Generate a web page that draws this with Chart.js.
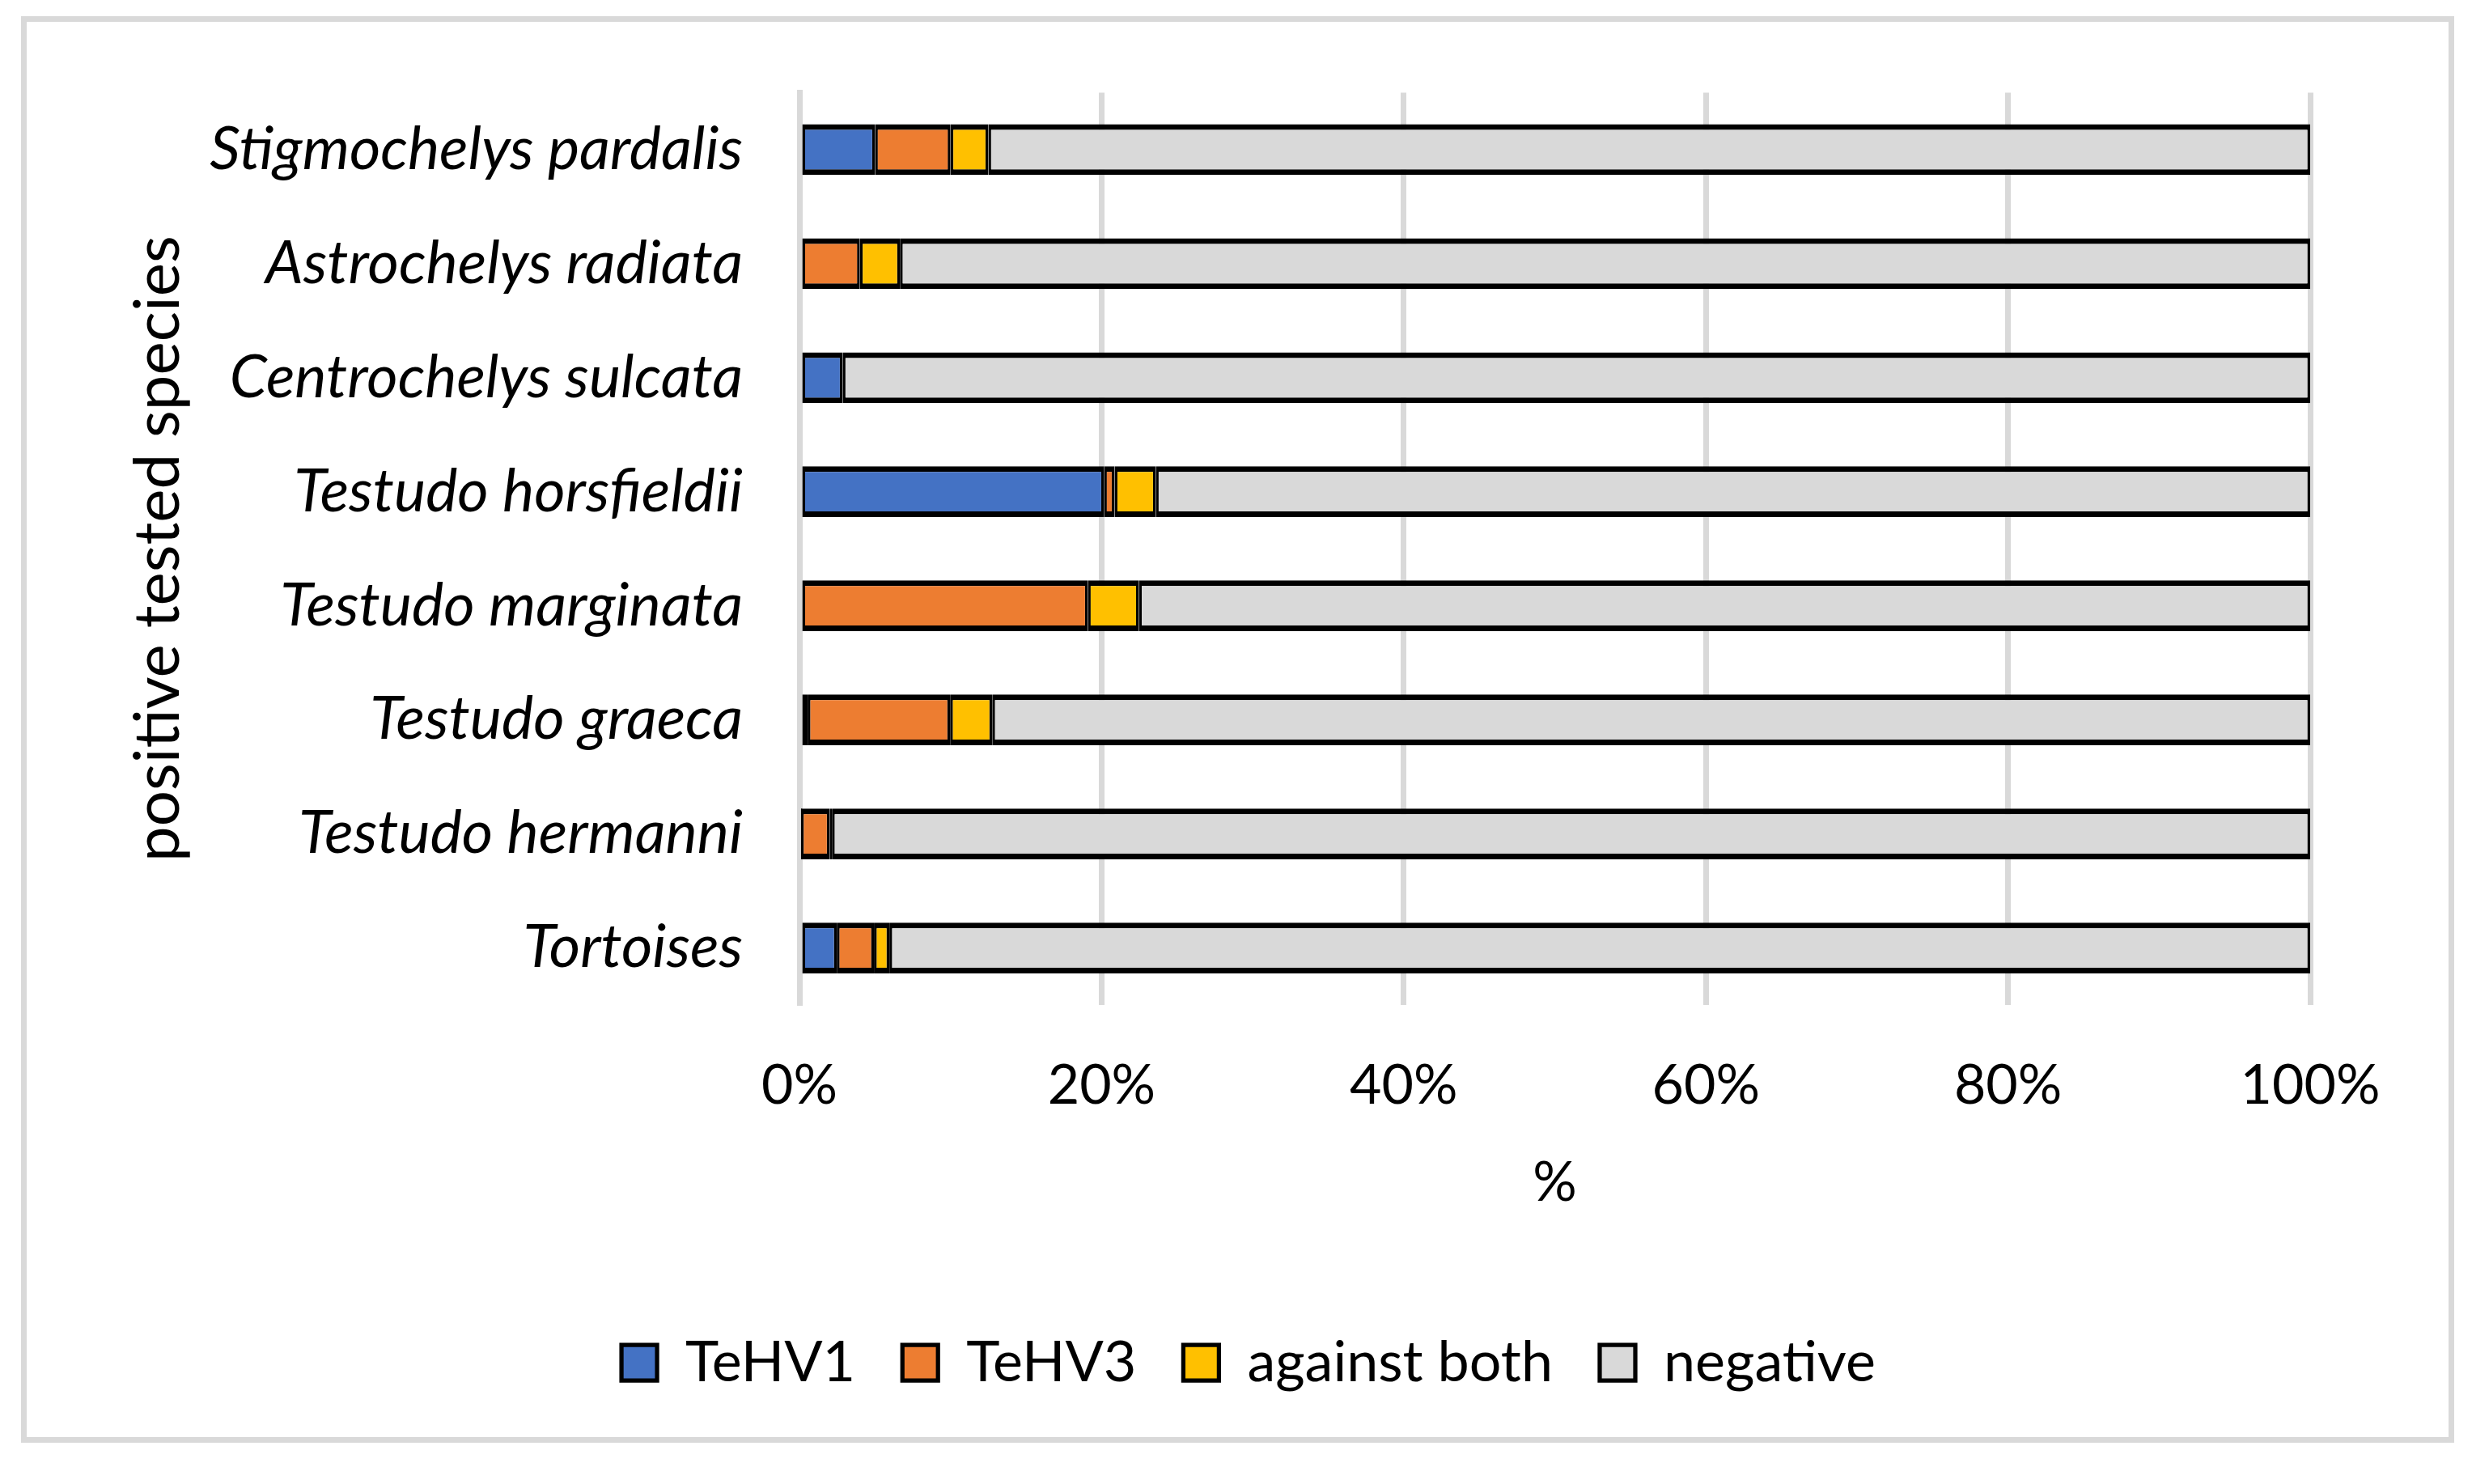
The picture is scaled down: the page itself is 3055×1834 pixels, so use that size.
<!DOCTYPE html>
<html>
<head>
<meta charset="utf-8">
<script src="https://cdn.jsdelivr.net/npm/chart.js@4.4.0/dist/chart.umd.min.js"></script>
<style>
  html, body { margin: 0; padding: 0; background: #fff; }
  #wrap { position: relative; width: 3055px; height: 1834px; }
  #frame { position: absolute; left: 26px; top: 20px; width: 3007px; height: 1763px;
           border: 7px solid #d9d9d9; box-sizing: border-box; pointer-events: none; }
</style>
</head>
<body>
<div id="wrap">
  <canvas id="chart"></canvas>
  <div id="frame"></div>
</div>
<script>
// categories, top to bottom
const species = ['Stigmochelys pardalis', 'Astrochelys radiata', 'Centrochelys sulcata',
  'Testudo horsfieldii', 'Testudo marginata', 'Testudo graeca', 'Testudo hermanni', 'Tortoises'];

// percentages
const tehv1 = [5.0, 0, 2.86, 20.16, 0, 0.54, 0.1, 2.47];
const tehv3 = [5.0, 4.0, 0, 0.7, 19.09, 9.43, 1.9, 2.46];
const againstBoth = [2.5, 2.65, 0, 2.73, 3.38, 2.79, 0.15, 1.02];
const negative = [87.5, 93.35, 97.14, 76.41, 77.53, 87.24, 97.85, 94.05];

const xTicks = [0, 20, 40, 60, 80, 100];

const FONT = 'Lato, "Open Sans", sans-serif';
const seg = { top: 7, bottom: 7, left: 3.5, right: 3.5 };

function series(label, data, color) {
  return {
    label: label,
    data: data,
    backgroundColor: color,
    borderColor: '#000000',
    borderWidth: seg,
    borderSkipped: false,
    barPercentage: 0.445,
    categoryPercentage: 1
  };
}

// legend is centred on the whole picture, not on the padded box
const centerLegend = {
  id: 'centerLegend',
  afterLayout(chart) {
    const l = chart.legend;
    const dx = 1543 - (l.left + l.right) / 2;
    l.left += dx;
    l.right += dx;
  }
};

const ctx = document.getElementById('chart').getContext('2d');
new Chart(ctx, {
  type: 'bar',
  data: {
    labels: species,
    datasets: [
      series('TeHV1', tehv1, '#4472C4'),
      series('TeHV3', tehv3, '#ED7D31'),
      series('against both', againstBoth, '#FFC000'),
      series('negative', negative, '#D9D9D9')
    ]
  },
  options: {
    indexAxis: 'y',
    responsive: true,
    maintainAspectRatio: false,
    devicePixelRatio: 1,
    animation: false,
    layout: { padding: { top: 112, right: 200, bottom: 105, left: 0 } },
    scales: {
      x: {
        stacked: true,
        min: 0,
        max: 100,
        afterBuildTicks: (axis) => { axis.ticks = xTicks.map(v => ({ value: v })); },
        afterFit: (axis) => { axis.height = 349; },
        grid: { color: '#D9D9D9', lineWidth: 7, drawTicks: false },
        border: { display: false },
        ticks: {
          padding: 59,
          color: '#000',
          font: { family: FONT, size: 68 },
          callback: (v) => v + '%'
        },
        title: {
          display: true,
          text: '%',
          color: '#000',
          font: { family: FONT, size: 68 },
          padding: { top: 0, bottom: 88 }
        }
      },
      y: {
        stacked: true,
        z: 1,
        afterFit: (axis) => { axis.width = 988; },
        grid: { display: false, drawTicks: false },
        border: { display: true, color: '#D9D9D9', width: 7 },
        ticks: {
          padding: 70,
          color: '#000',
          font: { family: FONT, size: 74, style: 'italic' }
        },
        title: {
          display: true,
          text: 'positive tested species',
          color: '#000',
          font: { family: FONT, size: 78 },
          padding: { top: 149, bottom: 0 }
        }
      }
    },
    plugins: {
      legend: {
        position: 'bottom',
        labels: {
          color: '#000',
          font: { family: FONT, size: 70 },
          boxWidth: 44,
          boxHeight: 44,
          padding: 58
        }
      },
      tooltip: { enabled: false }
    }
  },
  plugins: [centerLegend]
});
</script>
</body>
</html>
